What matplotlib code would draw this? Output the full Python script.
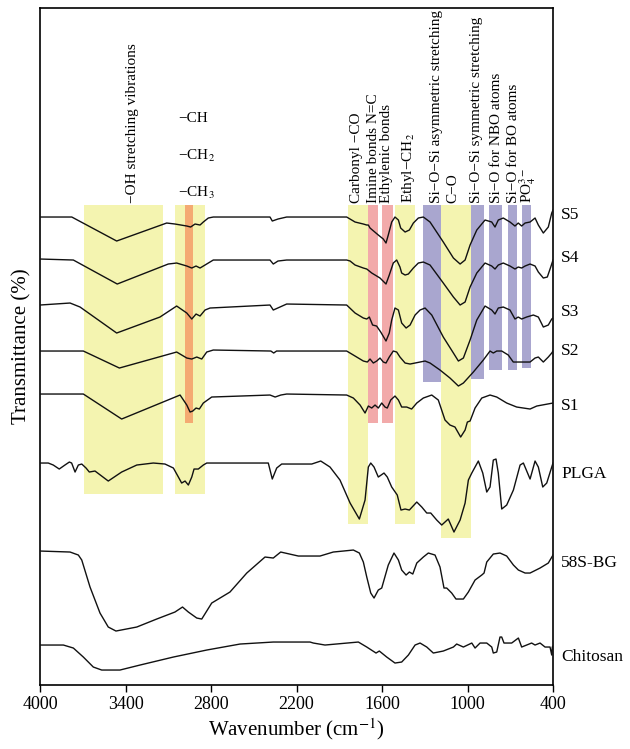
import numpy as np
import matplotlib
matplotlib.use("Agg")
import matplotlib.pyplot as plt
import matplotlib.transforms as mtransforms

plt.rcParams['font.family'] = ['Liberation Serif', 'DejaVu Serif']
plt.rcParams['mathtext.fontset'] = 'stix'

# espectros FTIR (numero de onda, transmitancia en unidades arbitrarias, ya desplazados)
s5_w = [4000, 3777, 3462, 3111, 3053, 2970, 2943, 2912, 2877, 2854, 2819, 2784, 2386, 2370, 2330, 2269,
        1848, 1789, 1731, 1707, 1696, 1684, 1626, 1591, 1572, 1556, 1532, 1509, 1485, 1469, 1438, 1408,
        1380, 1345, 1310, 1263, 1170, 1099, 1052, 1017, 982, 935, 877, 830, 807, 784, 749, 702, 667,
        644, 620, 596, 561, 526, 503, 468, 433, 409, 400]
s5_t = [476, 476, 452, 470, 469, 467, 466, 469, 468, 471, 475, 476, 476, 472, 474, 476,
        476, 471, 469, 468, 468, 465, 458, 454, 450, 458, 471, 476, 473, 465, 461, 463,
        470, 475, 476, 471, 451, 435, 429, 433, 448, 463, 473, 471, 466, 473, 475, 471, 467,
        470, 467, 470, 471, 475, 468, 460, 466, 480, 483]

s4_w = [4000, 3766, 3458, 3100, 3041, 2970, 2935, 2905, 2877, 2842, 2784, 2386, 2363, 2330, 2269,
        1848, 1824, 1789, 1731, 1707, 1672, 1614, 1572, 1549, 1521, 1497, 1474, 1462, 1438, 1415,
        1380, 1345, 1310, 1263, 1170, 1099, 1052, 1017, 982, 935, 877, 830, 807, 784, 749, 702,
        667, 644, 620, 596, 561, 526, 503, 468, 440, 416, 400]
s4_t = [434, 433, 409, 429, 430, 427, 425, 427, 425, 428, 433, 433, 429, 432, 433,
        433, 432, 428, 425, 424, 420, 415, 409, 418, 430, 433, 426, 420, 418, 419,
        425, 430, 431, 428, 410, 396, 388, 391, 406, 420, 430, 427, 424, 428, 430, 427,
        424, 426, 425, 427, 429, 427, 421, 415, 416, 426, 433]

s3_w = [4000, 3789, 3719, 3462, 3158, 3041, 2970, 2935, 2905, 2877, 2842, 2807, 2386, 2363, 2316, 2269,
        1848, 1789, 1731, 1707, 1689, 1666, 1638, 1609, 1572, 1549, 1532, 1509, 1485, 1462, 1431,
        1403, 1368, 1333, 1298, 1251, 1170, 1099, 1064, 1029, 982, 935, 877, 830, 807, 784, 749,
        702, 667, 644, 620, 585, 538, 503, 468, 433, 409, 400]
s3_t = [388, 390, 386, 360, 376, 387, 380, 374, 379, 377, 383, 385, 388, 383, 386, 389,
        388, 380, 375, 374, 376, 368, 367, 361, 352, 360, 373, 385, 383, 370, 365,
        368, 378, 383, 385, 378, 356, 340, 332, 335, 353, 373, 387, 383, 379, 385, 386,
        383, 374, 376, 374, 376, 378, 376, 366, 368, 374, 375]

s2_w = [4000, 3696, 3443, 3041, 2970, 2935, 2900, 2865, 2830, 2784, 2380, 2360, 2340, 2269,
        1848, 1801, 1731, 1703, 1684, 1661, 1637, 1614, 1591, 1572, 1549, 1521, 1497, 1474, 1438,
        1403, 1368, 1333, 1298, 1263, 1193, 1123, 1064, 1029, 959, 889, 842, 819, 795, 760, 714,
        679, 561, 526, 503, 468, 433, 409, 400]
s2_t = [342, 342, 325, 341, 335, 334, 336, 334, 341, 343, 342, 340, 342, 342,
        342, 338, 332, 331, 334, 330, 332, 335, 331, 330, 336, 342, 341, 336, 330,
        329, 330, 331, 332, 330, 323, 315, 307, 310, 321, 333, 342, 340, 342, 342, 338,
        331, 331, 335, 336, 331, 336, 340, 342]

s1_w = [4000, 3696, 3427, 3017, 2970, 2947, 2928, 2905, 2882, 2854, 2795, 2386, 2350, 2310, 2269,
        1848, 1801, 1754, 1719, 1696, 1672, 1649, 1626, 1602, 1579, 1563, 1539, 1509, 1485, 1462,
        1427, 1392, 1356, 1310, 1251, 1205, 1158, 1123, 1088, 1048, 1017, 1001, 982, 947, 900,
        842, 795, 725, 655, 561, 514, 400]
s1_t = [299, 299, 274, 298, 288, 281, 282, 285, 284, 290, 296, 298, 296, 298, 299,
        298, 295, 288, 280, 287, 285, 288, 285, 290, 286, 285, 293, 297, 293, 286,
        286, 284, 290, 295, 298, 293, 273, 268, 266, 256, 263, 271, 272, 285, 295,
        298, 296, 290, 286, 284, 287, 290]

plga_w = [4000, 3942, 3907, 3865, 3825, 3794, 3778, 3754, 3731, 3707, 3677, 3654, 3614, 3521, 3427,
          3321, 3205, 3123, 3064, 3029, 3006, 2982, 2959, 2935, 2919, 2889, 2854, 2830, 2398, 2370,
          2339, 2304, 2093, 2030, 1965, 1895, 1824, 1759, 1719, 1696, 1679, 1656, 1626, 1586, 1563,
          1532, 1493, 1467, 1438, 1408, 1356, 1321, 1286, 1258, 1216, 1181, 1135, 1095, 1052, 1017,
          994, 970, 924, 893, 865, 842, 819, 800, 784, 760, 725, 678, 631, 608, 561, 526, 503, 472,
          444, 409, 400]
plga_t = [230, 230, 228, 224, 228, 231, 230, 221, 228, 229, 225, 221, 222, 212, 221,
          228, 230, 229, 225, 216, 210, 212, 208, 216, 224, 224, 228, 230, 230, 214,
          225, 229, 229, 232, 226, 213, 190, 174, 193, 226, 230, 226, 216, 220, 216,
          206, 198, 183, 184, 183, 191, 186, 180, 180, 173, 168, 174, 161, 173, 190,
          213, 220, 232, 220, 201, 206, 233, 234, 220, 184, 188, 203, 228, 230, 214, 232, 226, 206,
          210, 226, 230]

bg_w = [4000, 3789, 3731, 3707, 3649, 3579, 3521, 3467, 3321, 3181, 3053, 3000, 2959, 2900, 2865,
        2795, 2667, 2549, 2421, 2363, 2311, 2187, 2035, 1942, 1871, 1801, 1759, 1731, 1707, 1679,
        1656, 1626, 1602, 1556, 1516, 1485, 1462, 1431, 1408, 1384, 1356, 1310, 1275, 1228, 1193,
        1165, 1146, 1111, 1081, 1029, 994, 947, 900, 884, 865, 819, 772, 725, 678, 643, 596, 561,
        491, 433, 400]
bg_t = [142, 141, 138, 133, 106, 80, 66, 62, 66, 74, 81, 86, 81, 75, 74,
        90, 101, 120, 136, 135, 141, 137, 137, 141, 142, 143, 140, 131, 116, 100,
        95, 103, 105, 128, 140, 133, 123, 118, 121, 119, 130, 136, 140, 138, 126,
        105, 105, 100, 94, 94, 101, 113, 118, 120, 131, 139, 140, 137, 128, 123, 120, 120,
        125, 130, 138]

chi_w = [4000, 3836, 3766, 3696, 3626, 3567, 3439, 3298, 3064, 2830, 2596, 2363, 2105, 2082, 2000,
         1766, 1707, 1642, 1619, 1567, 1509, 1462, 1415, 1368, 1333, 1286, 1240, 1170, 1099, 1076,
         1029, 970, 947, 912, 865, 830, 819, 795, 772, 760, 744, 690, 643, 620, 585, 550, 526, 491,
         456, 421, 409, 405, 400]
chi_t = [48, 48, 45, 36, 26, 23, 23, 28, 36, 43, 49, 51, 51, 50, 48,
         51, 46, 40, 42, 36, 30, 31, 38, 48, 50, 46, 40, 42, 46, 49,
         46, 50, 45, 50, 50, 46, 40, 41, 56, 56, 50, 50, 55, 46, 48, 50, 48, 50,
         46, 46, 38, 46, 47]

spectra = [(s5_w, s5_t), (s4_w, s4_t), (s3_w, s3_t), (s2_w, s2_t), (s1_w, s1_t),
           (plga_w, plga_t), (bg_w, bg_t), (chi_w, chi_t)]
nombres = ['S5', 'S4', 'S3', 'S2', 'S1', 'PLGA', '58S-BG', 'Chitosan']
nombres_y = [478, 435, 381, 342, 287, 219, 130, 36]

# bandas sombreadas: limites en numero de onda y altura inferior
banda_lo = [3690, 3053, 2982, 1839, 1700, 1600, 1506, 1312, 1186, 975, 849, 716, 618]
banda_hi = [3140, 2844, 2926, 1700, 1630, 1525, 1370, 1186, 975, 884, 760, 653, 555]
banda_bottom = [199, 199, 270, 169, 270, 270, 169, 311, 155, 314, 323, 323, 325]
banda_top = 488
amarillo, rosa, morado, naranja = '#F4F4B0', '#F2AAAA', '#A9A6CF', '#F4AA72'
banda_color = [amarillo, amarillo, naranja, amarillo, rosa, rosa, amarillo,
               morado, amarillo, morado, morado, morado, morado]

etiquetas = ['−OH stretching vibrations', 'Carbonyl −CO', 'Imine bonds N=C', 'Ethylenic bonds',
             'Ethyl−CH$_2$', 'Si−O−Si asymmetric stretching', 'C−O', 'Si−O−Si symmetric stretching',
             'Si−O for NBO atoms', 'Si−O for BO atoms', 'PO$_4^{3-}$']
etiquetas_x = [3354, 1777, 1661, 1567, 1417, 1216, 1101, 935, 795, 680, 575]

fig = plt.figure(figsize=(6.3, 7.49), dpi=100)
ax = fig.add_axes([0.0635, 0.0854, 0.8143, 0.9039])

for lo, hi, b, c in zip(banda_lo, banda_hi, banda_bottom, banda_color):
    ax.fill_between([lo, hi], b, banda_top, color=c, lw=0, zorder=1)

for w, t in spectra:
    ax.plot(w, t, color='#111111', lw=1.0, zorder=3)

trans = mtransforms.blended_transform_factory(ax.transAxes, ax.transData)
for n, y in zip(nombres, nombres_y):
    ax.text(1.016, y, n, transform=trans, fontsize=12.5, va='center', ha='left')

for txt, x in zip(etiquetas, etiquetas_x):
    ax.text(x, banda_top + 2, txt, rotation=90, ha='center', va='bottom', fontsize=11)

for txt, y in zip(['−CH', '−CH$_2$', '−CH$_3$'], [575, 537, 500]):
    ax.text(3031, y, txt, ha='left', va='center', fontsize=11)

ax.set_xlim(4000, 400)
ax.set_ylim(8, 685)
ax.set_xticks([4000, 3400, 2800, 2200, 1600, 1000, 400])
ax.set_yticks([])
ax.tick_params(axis='x', direction='out', length=5, width=1, labelsize=13, pad=3)
for sp in ax.spines.values():
    sp.set_linewidth(1.2)
ax.set_xlabel('Wavenumber (cm$^{-1}$)', fontsize=15, labelpad=2)
ax.set_ylabel('Transmittance (%)', fontsize=15, labelpad=6)

plt.savefig('out.png', dpi=100)
